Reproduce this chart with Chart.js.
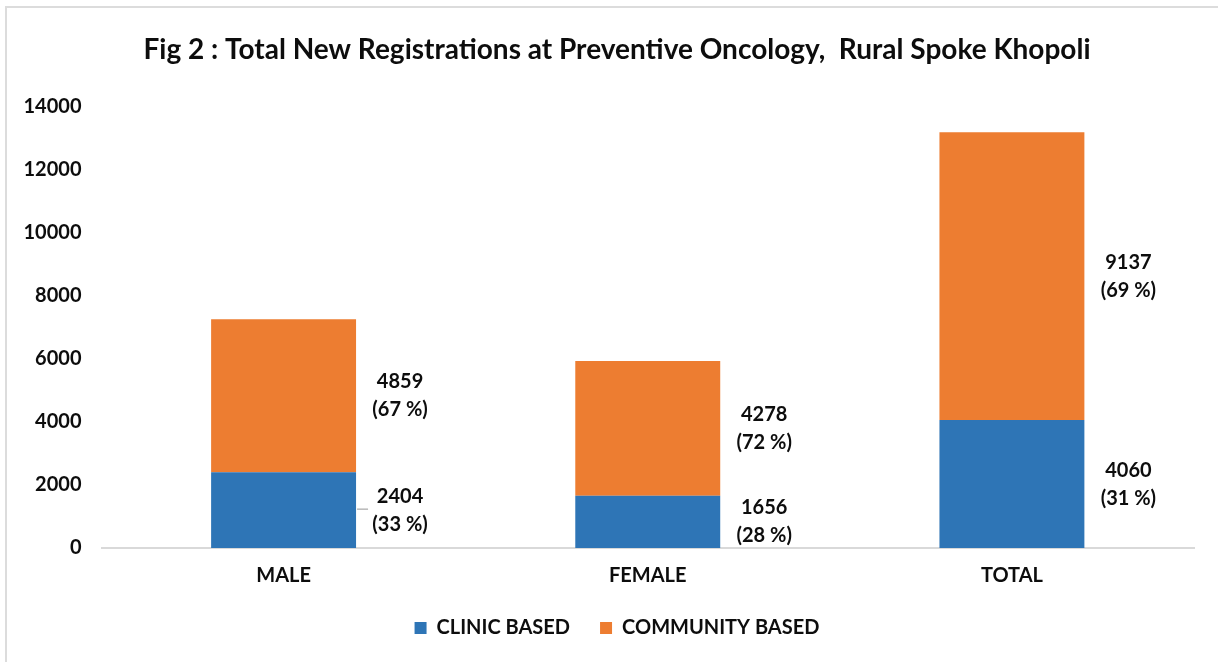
<!DOCTYPE html>
<html>
<head>
<meta charset="utf-8">
<title>Fig 2 : Total New Registrations</title>
<script src="https://cdn.jsdelivr.net/npm/chart.js@4/dist/chart.umd.min.js"></script>
<style>
	html, body { margin: 0; padding: 0; background: #fff; }
	#wrap { position: relative; width: 1218px; height: 662px; }
	#frame {
		position: absolute; left: 5px; top: 6px; right: 0; bottom: 0;
		border-left: 2px solid #dcdcdc; border-top: 2px solid #dcdcdc;
		pointer-events: none;
	}
</style>
</head>
<body>
<div id="wrap">
	<canvas id="registrations" width="1218" height="662"></canvas>
	<div id="frame"></div>
</div>
<script>
const categories = ['MALE', 'FEMALE', 'TOTAL'];
const clinicBased = [2404, 1656, 4060];
const communityBased = [4859, 4278, 9137];
const yTicks = [0, 2000, 4000, 6000, 8000, 10000, 12000, 14000];

const textColor = '#0d0d0d';
const fontFamily = 'Lato, "Open Sans", sans-serif';

// Value + share-of-bar label, placed to the right of each stacked segment
const segmentLabels = {
	id: 'segmentLabels',
	afterDatasetsDraw(chart) {
		const { ctx } = chart;
		ctx.save();
		ctx.font = `bold 20px ${fontFamily}`;
		ctx.fillStyle = textColor;
		ctx.textAlign = 'center';
		ctx.textBaseline = 'middle';
		chart.data.datasets.forEach((ds, di) => {
			const meta = chart.getDatasetMeta(di);
			meta.data.forEach((bar, i) => {
				const value = ds.data[i];
				const total = clinicBased[i] + communityBased[i];
				const pct = Math.round(value / total * 100);
				const x = bar.x + bar.width / 2 + 44;
				const y = (bar.y + bar.base) / 2;
				ctx.fillText(String(value), x, y - 14);
				ctx.fillText(`(${pct} %)`, x, y + 14);
				// the male clinic label sits a little low, Excel left a leader line there
				if (di === 0 && i === 0) {
					ctx.strokeStyle = '#a6a6a6';
					ctx.lineWidth = 1.2;
					ctx.beginPath();
					ctx.moveTo(bar.x + bar.width / 2 + 1, y - 1);
					ctx.lineTo(bar.x + bar.width / 2 + 12, y - 1);
					ctx.stroke();
				}
			});
		});
		ctx.restore();
	}
};

function draw() {
	const canvas = document.getElementById('registrations');
	new Chart(canvas, {
		type: 'bar',
		data: {
			labels: categories,
			datasets: [
				{ label: 'CLINIC BASED', data: clinicBased, backgroundColor: '#2e75b6' },
				{ label: 'COMMUNITY BASED', data: communityBased, backgroundColor: '#ed7d31' }
			]
		},
		options: {
			responsive: false,
			animation: false,
			categoryPercentage: 1,
			barPercentage: 0.398,
			// left padding pushes title/legend centre right; the y labels overhang it
			layout: { padding: { left: 40, right: 24, top: 0, bottom: 14 } },
			scales: {
				x: {
					stacked: true,
					grid: { display: false, drawTicks: false },
					border: { display: true, color: '#d9d9d9', width: 2 },
					ticks: { color: textColor, font: { family: fontFamily, size: 20, weight: 'bold' }, padding: 16 },
					afterFit: s => { s.height = 40; }
				},
				y: {
					stacked: true,
					min: 0,
					max: 14000,
					grid: { display: false, drawTicks: false },
					border: { display: false },
					afterBuildTicks: s => { s.ticks = yTicks.map(v => ({ value: v })); },
					ticks: {
						color: textColor,
						font: { family: fontFamily, size: 20, weight: 'bold' },
						padding: 20,
						callback: v => String(v)
					},
					afterFit: s => {
						s.width = 61.5;
						// don't clip tick labels to the narrowed axis box
						s._computeLabelArea = () => undefined;
					}
				}
			},
			plugins: {
				title: {
					display: true,
					// zero-width non-joiners keep "ti" from turning into a ligature
					text: 'Fig 2 : Total New Registra\u200Ctions at Preven\u200Ctive Oncology,  Rural Spoke Khopoli',
					color: textColor,
					font: { family: fontFamily, size: 28, weight: 'bold' },
					padding: { top: 33.2, bottom: 40.2 }
				},
				legend: {
					position: 'bottom',
					labels: {
						color: textColor,
						font: { family: fontFamily, size: 20, weight: 'bold' },
						boxWidth: 12,
						boxHeight: 12,
						padding: 30
					}
				},
				tooltip: { enabled: false }
			}
		},
		plugins: [segmentLabels]
	});
}

document.fonts.load(`bold 20px Lato`).then(draw, draw);
</script>
</body>
</html>
